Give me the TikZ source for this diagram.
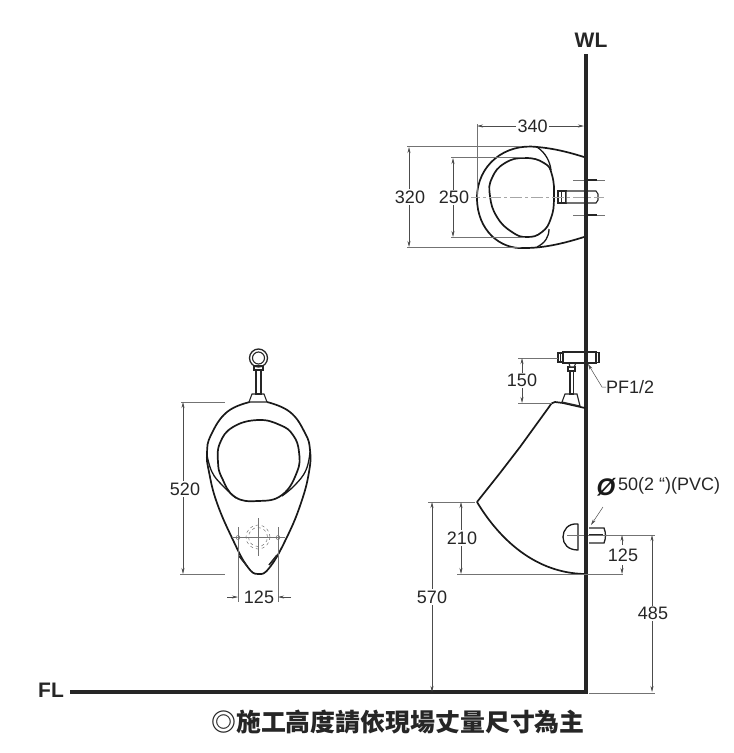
\documentclass[tikz,border=0pt]{standalone}
\usepackage{fontspec}
\setmainfont{Liberation Sans}
\newfontfamily\cjkfont{Noto Sans CJK TC}
\usetikzlibrary{arrows.meta,positioning}
\begin{document}
\begin{tikzpicture}[
           x = 1pt, y = -1pt,
       > = {Stealth[length=6pt,width=3pt]},
  wall/.style = {draw=black!85, line width=4.2pt},
 shell/.style = {draw=black!90, line width=1.7pt, line join=round},
  part/.style = {draw=black!85, line width=1.1pt, fill=white},
   dim/.style = {draw=black!70, line width=0.5pt},
   ext/.style = {draw=black!55, line width=0.5pt},
center/.style = {draw=black!35, line width=0.8pt, dash pattern=on 12pt off 3pt on 3pt off 3pt},
   num/.style = {font=\fontsize{18}{20}\selectfont, text=black!85, fill=white, inner sep=1.5pt},
  tick/.style = {font=\bfseries\fontsize{21}{23}\selectfont, text=black!85, inner sep=0pt},
]
\useasboundingbox (0,0) rectangle (734,753);
% wall and floor
\coordinate (wltop) at (586,56);
\coordinate (corner) at (586,692);
\coordinate (flend) at (72,692);
\draw[wall, line cap=rect] (wltop) -- (corner) -- (flend);
\node[tick] (wl) at (591,40) {WL};
\node[tick] (fl) at (51,690) {FL};
\node[font=\cjkfont\bfseries\fontsize{24.9}{26}\selectfont, text=black!85, inner sep=0pt] (note) at (398,722) {◎施工高度請依現場丈量尺寸為主};

% top view
\draw[shell] (584,157) .. controls (565,151) and (550,148) .. (537,147)
  .. controls (505,143) and (477,165) .. (477,198)
  .. controls (477,230) and (500,250) .. (525,248)
  .. controls (545,248) and (565,243) .. (584,237);
\draw[shell, line width=1.3pt] (537,147) .. controls (546,153) and (550,162) .. (551,170);
\draw[shell, line width=1.3pt] (537,247) .. controls (545,243) and (549,237) .. (549,229);
\draw[shell] plot[smooth cycle, tension=0.8] coordinates {(525,158) (505,163) (492,178) (490,196) (497,217) (512,232) (527,237) (542,232) (551,218) (554,198) (552,175) (544,163)};
\draw[part] (558,191) rectangle (566,203);
\draw[part] (566,191) -- (596,191) -- (598,194) -- (598,200) -- (596,203) -- (566,203) -- cycle;
\draw[part, line width=0.6pt] (561,191) -- (561,203);
\draw[center] (468,197) -- (604,197);
\foreach \yy in {180,215}
{
\draw[ext, line width=0.7pt] (573,\yy) -- (605,\yy);
\draw[black!85, line width=1.6pt] (588,\yy) -- (597,\yy);
}
\draw[wall] (586,150) -- (586,245);
% top view dimensions
\draw[ext] (477,124) -- (477,198);
\draw[ext] (407,146) -- (520,146);
\draw[ext] (407,247) -- (520,247);
\draw[ext] (451,157) -- (525,157);
\draw[ext] (451,237) -- (525,237);
\draw[dim, <->] (477,126) -- node[num, pos=0.52] (d340) {340} (584,126);
\draw[dim, <->] (409,147) -- node[num, xshift=1pt] (d320) {320} (409,247);
\draw[dim, <->] (453,158) -- node[num, xshift=1pt] (d250) {250} (453,237);

% side view
\draw[shell] (585,408) -- (563,403) -- (555,402) .. controls (552,402) and (551,404) .. (549,407)
  -- (520,447) -- (500,473) -- (477,502)
  .. controls (495,532) and (530,573) .. (585,574);
\draw[part] (565,394) -- (577,394) -- (580,406) -- (562,402) -- cycle;
\draw[part] (570,371) rectangle (573.5,394);
\draw[part] (568,367) rectangle (575,371);
\draw[part] (569,363) -- (576,363) -- (574,367) -- (570,367) -- cycle;
\draw[part] (563,352) rectangle (596,363);
\draw[part] (596,352.5) rectangle (599,362.5);
\draw[part] (558,353) rectangle (563,362);
\draw[part, line width=0.6pt] (560,353) -- (560,362);
\draw[wall] (586,345) -- (586,370);
\draw[shell, line width=1.3pt] (578,524) .. controls (568,523) and (563,530) .. (563,537) .. controls (563,544) and (568,550) .. (578,550) -- cycle;
\draw[part, line width=1.3pt] (589,528) -- (604,528) .. controls (606,533) and (606,538) .. (604,543) -- (589,543);
\draw[part, line width=1.5pt] (589,535) -- (603,535);
\draw[ext] (567,535) -- (655,535);
\draw[wall] (586,520) -- (586,550);
% side view dimensions
\draw[ext] (518,358) -- (558,358);
\draw[ext] (518,403) -- (552,403);
\draw[ext] (428,502) -- (475,502);
\draw[ext] (457,574) -- (623,574);
\draw[ext] (589,693) -- (655,693);
\draw[dim, <->] (522,358) -- node[num] (d150) {150} (522,403);
\draw[dim, <->] (461,502) -- node[num, xshift=1pt] (d210) {210} (461,574);
\draw[dim, <->] (432,502) -- node[num] (d570) {570} (432,692);
\draw[dim, <->] (652,535) -- node[num, xshift=1pt] (d485) {485} (652,692);
\draw[dim, ->] (622,545) -- (622,535);
\draw[dim, ->] (622,565) -- (622,574);
\node[num, fill=none] (d125b) at (623,555) {125};
% pipe labels
\node[num, fill=none, anchor=west, inner sep=0pt] (pf) at (606,387) {PF1/2};
\coordinate (pfbend) at (602,387);
\draw[dim, ->] (pf.west) -- (pfbend) -- (588,364);
\node[font=\bfseries\itshape\fontsize{24}{26}\selectfont, text=black!90, inner sep=0pt] (phi) at (606,487) {Ø};
\node[font=\fontsize{18}{20}\selectfont, text=black!85, anchor=west, inner sep=0pt] (pvc) at (618,486) {50(2 “)(PVC)};
\coordinate (pvcfoot) at (603,507);
\coordinate (pvctip) at (591,525);
\draw[dim, ->] (pvcfoot) -- (pvctip);

% front view
\draw[shell] plot[smooth, tension=0.75] coordinates {(250,402) (227,412) (211,435) (207,453) (209,472) (217,503) (233,540) (247,566) (258,574) (270,567) (287,537) (301,503) (309,472) (310,450) (305,433) (290,412) (267,402)};
\draw[shell, line width=1.3pt] plot[smooth, tension=0.75] coordinates {(207,455) (212,472) (222,485) (236,498)};
\draw[shell, line width=1.3pt] plot[smooth, tension=0.75] coordinates {(310,452) (306,470) (295,485) (282,496)};
\draw[shell] plot[smooth cycle, tension=0.75] coordinates {(258,420) (233,427) (220,443) (218,462) (222,478) (235,497) (258,501) (282,495) (297,472) (299,452) (293,435) (280,425)};
\draw[part] (252,394) -- (264,394) -- (267,402) -- (249,402) -- cycle;
\draw[part] (256,370) rectangle (261,394);
\draw[part] (254,366) rectangle (263,370);
\node[circle, draw=black!85, line width=1.3pt, minimum size=18pt, inner sep=0pt] (ring) at (258.5,358) {};
\node[circle, draw=black!85, line width=1.1pt, minimum size=12pt, inner sep=0pt] (ringin) at (258.5,358) {};
% drain
\draw[ext, dashed] (258,537) circle[radius=12pt];
\draw[ext, dashed] (258,537) circle[radius=9.5pt];
\draw[ext] (258,518) -- (258,556);
\draw[ext] (232,537.5) -- (285,537.5);
\node[circle, draw=black!55, line width=0.5pt, minimum size=4pt, inner sep=0pt] (holel) at (238,537.5) {};
\node[circle, draw=black!55, line width=0.5pt, minimum size=4pt, inner sep=0pt] (holer) at (278,537.5) {};
\draw[part, line width=1.5pt] (239,556) -- (247,566);
\draw[part, line width=1.5pt] (277,555) -- (269,565);
% front view dimensions
\draw[ext] (238,527) -- (238,602);
\draw[ext] (278,527) -- (278,602);
\draw[ext] (181,402) -- (225,402);
\draw[ext] (180,574) -- (225,574);
\draw[dim, <->] (183,402) -- node[num, xshift=2pt, yshift=-1pt] (d520) {520} (183,574);
\draw[dim, ->] (227,597) -- (238,597);
\draw[dim, ->] (291,597) -- (278,597);
\node[num, fill=none] (d125a) at (259,597) {125};
\end{tikzpicture}
\end{document}
